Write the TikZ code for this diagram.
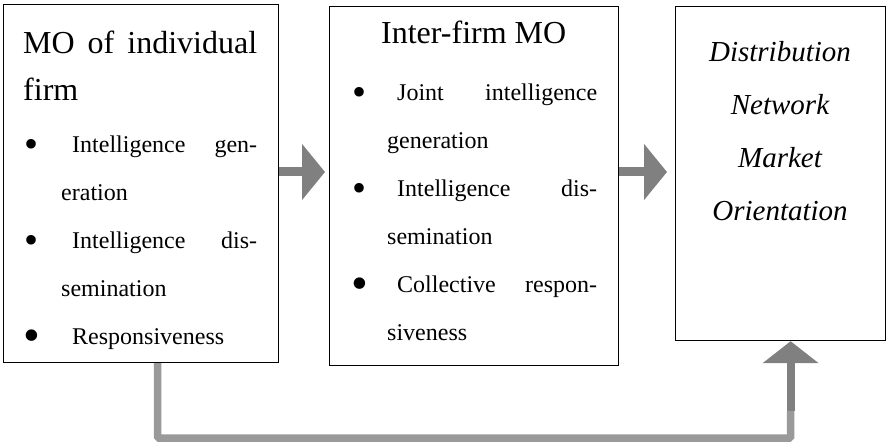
\documentclass[tikz,border=0pt]{standalone}
\usepackage{fontspec}
\setmainfont{Liberation Serif}
\usetikzlibrary{arrows.meta,calc,positioning}
\definecolor{arrowgray}{HTML}{808080}
\definecolor{linegray}{HTML}{9A9A9A}
\newcommand{\itembullet}{\raisebox{-5pt}{\fontsize{40}{40}\selectfont\textbullet}}
\newcommand{\bigbullet}{\raisebox{-7pt}{\fontsize{48}{48}\selectfont\textbullet}}

\begin{document}
\begin{tikzpicture}[x=1pt,y=-1pt,
    boxnode/.style={draw=black,line width=1.2pt,inner sep=0pt,anchor=north west},
    txtnode/.style={inner sep=0pt,anchor=north west},
    fatarrow/.style={draw=arrowgray,line width=9pt,-{Triangle[width=55pt,length=23pt]}},
    returnline/.style={draw=linegray,line width=7.5pt,rounded corners=1.5pt},
    uparrow/.style={draw=arrowgray,line width=8pt,-{Triangle[width=55pt,length=22pt]}}]
        \useasboundingbox (0,0) rectangle (888,446);
        % boxes
        \node[boxnode,minimum width=275pt,minimum height=358pt] (b1) at (3,4) {};
        \node[boxnode,minimum width=289pt,minimum height=359pt] (b2) at (329,6) {};
        \node[boxnode,minimum width=210pt,minimum height=334pt] (b3) at (675,6) {};

        % Text Node
        \node[txtnode] (t1) at (23,31) {\parbox[t]{234pt}{%
            \fontsize{32}{47}\selectfont
            \hbox to\linewidth{MO\hfill of\hfill individual}\par
            \hbox to\linewidth{firm\hfill}\par
            \vspace{4pt}\fontsize{24}{48}\selectfont
            \hbox to\linewidth{\makebox[49pt][l]{\hspace{1pt}\itembullet}Intelligence\hfill gen-}\par
            \hbox to\linewidth{\hspace{38pt}eration\hfill}\par
            \hbox to\linewidth{\makebox[49pt][l]{\hspace{1pt}\itembullet}Intelligence\hfill dis-}\par
            \hbox to\linewidth{\hspace{38pt}semination\hfill}\par
            \hbox to\linewidth{\makebox[49pt][l]{\hspace{0pt}\bigbullet}Responsiveness\hfill}}};
        % Text Node
        \node[txtnode] (t2) at (350,21) {\parbox[t]{247pt}{%
            \fontsize{32}{47}\selectfont
            \hbox to\linewidth{\hfill Inter-firm MO\hfill}\par
            \vspace{9pt}\fontsize{24}{48}\selectfont
            \hbox to\linewidth{\makebox[47pt][l]{\hspace{2pt}\itembullet}Joint\hfill intelligence}\par
            \hbox to\linewidth{\hspace{37pt}generation\hfill}\par
            \hbox to\linewidth{\makebox[47pt][l]{\hspace{2pt}\itembullet}Intelligence\hfill dis-}\par
            \hbox to\linewidth{\hspace{37pt}semination\hfill}\par
            \hbox to\linewidth{\makebox[47pt][l]{\hspace{1pt}\bigbullet}Collective\hfill respon-}\par
            \hbox to\linewidth{\hspace{37pt}siveness\hfill}}};
        % Text Node
        \node[txtnode,anchor=north] (t3) at (780,41) {\parbox[t]{200pt}{\centering
            \fontsize{29}{53}\selectfont\itshape
            Distribution\\ Network\\ Market\\ Orientation}};

        % arrows
        \coordinate (mid) at (0,172);
        \draw[fatarrow] (b1.east |- mid) -- ($(b2.west |- mid)+(-4,0)$);
        \draw[fatarrow] (b2.east |- mid) -- ($(b3.west |- mid)+(-8,0)$);
        \coordinate (loopstart) at ($(b1.south)+(16.5,0)$);
        \coordinate (loopend) at ($(b3.south)+(10,0)$);
        \draw[returnline] (loopstart) |- ($(loopend)+(0,97)$) -- ($(loopend)+(0,70)$);
        \draw[uparrow] ($(loopend)+(0,70)$) -- (loopend);
    \end{tikzpicture}
\end{document}
